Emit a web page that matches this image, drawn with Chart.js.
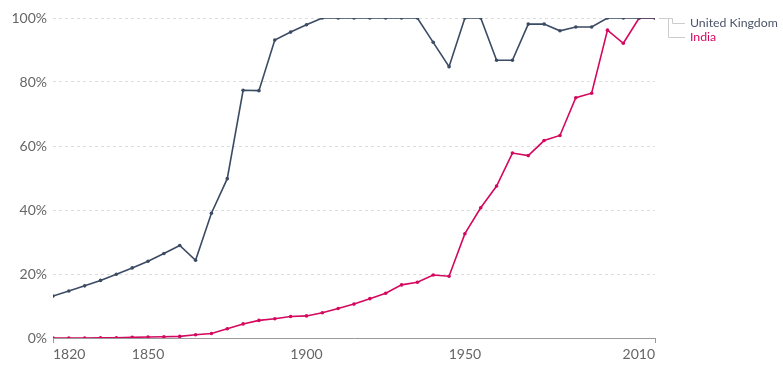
<!DOCTYPE html>
<html>
<head>
<meta charset="utf-8">
<script src="https://cdn.jsdelivr.net/npm/chart.js@4/dist/chart.umd.min.js"></script>
<style>
  html, body { margin: 0; padding: 0; background: #fff; }
  #wrap { width: 783px; height: 366px; position: relative; }
</style>
</head>
<body>
<div id="wrap"><canvas id="chart"></canvas></div>
<script>
// data
const years = [1820, 1825, 1830, 1835, 1840, 1845, 1850, 1855, 1860, 1865,
               1870, 1875, 1880, 1885, 1890, 1895, 1900, 1905, 1910, 1915,
               1920, 1925, 1930, 1935, 1940, 1945, 1950, 1955, 1960, 1965,
               1970, 1975, 1980, 1985, 1990, 1995, 2000, 2005, 2010];

const ukValues = [13.1, 14.7, 16.3, 18.0, 19.9, 21.9, 24.0, 26.4, 28.9, 24.3,
                  39.0, 49.8, 77.4, 77.3, 93.1, 95.6, 97.9, 100, 100, 100,
                  100, 100, 100, 100, 92.4, 84.8, 100, 100, 86.8, 86.8,
                  98.1, 98.1, 96.0, 97.2, 97.2, 100, 100, 100, 100];

const indiaValues = [0, 0, 0, 0.1, 0.1, 0.2, 0.3, 0.4, 0.5, 1.0,
                     1.4, 2.9, 4.4, 5.5, 6.0, 6.7, 6.9, 7.9, 9.2, 10.6,
                     12.3, 14.0, 16.6, 17.4, 19.7, 19.3, 32.6, 40.7, 47.5, 57.8,
                     57.0, 61.7, 63.3, 75.1, 76.5, 96.2, 92.1, 100, 100];

const xTickLabels = [1820, 1850, 1900, 1950, 2010];
const yTickLabels = [0, 20, 40, 60, 80, 100];

const seriesNames = ['United Kingdom', 'India'];
const seriesColors = ['#3b4b63', '#d4085e'];

const FONT = 'Lato, "Open Sans", sans-serif';

function toPoints(values) {
    return values.map((v, i) => ({ x: years[i], y: v }));
}

// x tick labels: first left-aligned, last right-aligned, plus end ticks
const xLabelsPlugin = {
    id: 'xLabels',
    afterDraw(chart) {
        const ctx = chart.ctx;
        const xs = chart.scales.x;
        const bottom = chart.chartArea.bottom;
        ctx.save();
        ctx.font = '14px ' + FONT;
        ctx.fillStyle = '#666';
        ctx.textBaseline = 'top';
        xTickLabels.forEach((t, i) => {
            const px = xs.getPixelForValue(t);
            if (i === 0) ctx.textAlign = 'left';
            else if (i === xTickLabels.length - 1) ctx.textAlign = 'right';
            else ctx.textAlign = 'center';
            ctx.fillText(String(t), px, bottom + 9);
        });
        ctx.strokeStyle = '#999';
        ctx.lineWidth = 1;
        [xs.left, xs.right].forEach(px => {
            ctx.beginPath();
            ctx.moveTo(Math.round(px) + 0.5, bottom);
            ctx.lineTo(Math.round(px) + 0.5, bottom + 5);
            ctx.stroke();
        });
        ctx.restore();
    }
};

// end-of-line labels with connector lines
const endLabelsPlugin = {
    id: 'endLabels',
    afterDraw(chart) {
        const ctx = chart.ctx;
        const xs = chart.scales.x;
        const ys = chart.scales.y;
        const endX = xs.getPixelForValue(years[years.length - 1]);
        const labelX = endX + 35;
        const rowY = [23, 37];
        ctx.save();
        ctx.strokeStyle = '#ccc';
        ctx.lineWidth = 1;
        seriesNames.forEach((name, i) => {
            const vals = i === 0 ? ukValues : indiaValues;
            const py = Math.round(ys.getPixelForValue(vals[vals.length - 1])) + 0.5;
            const bendX = Math.round(endX + (i === 0 ? 17 : 13)) + 0.5;
            ctx.beginPath();
            ctx.moveTo(endX + 4, py);
            ctx.lineTo(bendX, py);
            ctx.lineTo(bendX, rowY[i] + 0.5);
            ctx.lineTo(labelX - 5, rowY[i] + 0.5);
            ctx.stroke();
        });
        ctx.font = '12.3px ' + FONT;
        ctx.textAlign = 'left';
        ctx.textBaseline = 'middle';
        seriesNames.forEach((name, i) => {
            ctx.fillStyle = i === 0 ? '#4a5568' : seriesColors[1];
            ctx.fillText(name, labelX, rowY[i]);
        });
        ctx.restore();
    }
};

const ctx = document.getElementById('chart').getContext('2d');
const chart = new Chart(ctx, {
    type: 'line',
    data: {
        datasets: [
            {
                label: seriesNames[0],
                data: toPoints(ukValues),
                borderColor: seriesColors[0],
                backgroundColor: seriesColors[0],
                borderWidth: 1.6,
                pointRadius: 1.8,
                pointBorderWidth: 0,
                tension: 0
            },
            {
                label: seriesNames[1],
                data: toPoints(indiaValues),
                borderColor: seriesColors[1],
                backgroundColor: seriesColors[1],
                borderWidth: 1.6,
                pointRadius: 1.8,
                pointBorderWidth: 0,
                tension: 0
            }
        ]
    },
    options: {
        responsive: true,
        maintainAspectRatio: false,
        animation: false,
        devicePixelRatio: 1,
        layout: { padding: { left: 0, right: 128, top: 18, bottom: 0 } },
        plugins: {
            legend: { display: false },
            tooltip: { enabled: false }
        },
        scales: {
            x: {
                type: 'linear',
                min: 1820,
                max: 2010,
                afterFit: s => { s.height = 28; },
                afterBuildTicks: s => { s.ticks = xTickLabels.map(v => ({ value: v })); },
                ticks: { display: false },
                grid: { display: false, drawTicks: false },
                border: { display: true, color: '#999', width: 1 }
            },
            y: {
                min: 0,
                max: 100,
                afterFit: s => { s.width = 53; },
                afterBuildTicks: s => { s.ticks = yTickLabels.map(v => ({ value: v })); },
                ticks: {
                    color: '#666',
                    font: { family: FONT, size: 14 },
                    padding: 6,
                    callback: v => v + '%'
                },
                grid: {
                    color: ctx => ctx.tick && ctx.tick.value === 0 ? 'rgba(0,0,0,0)' : '#ddd',
                    drawTicks: false,
                    lineWidth: 1
                },
                border: { display: false, dash: [3, 3] }
            }
        }
    },
    plugins: [xLabelsPlugin, endLabelsPlugin]
});
</script>
</body>
</html>
